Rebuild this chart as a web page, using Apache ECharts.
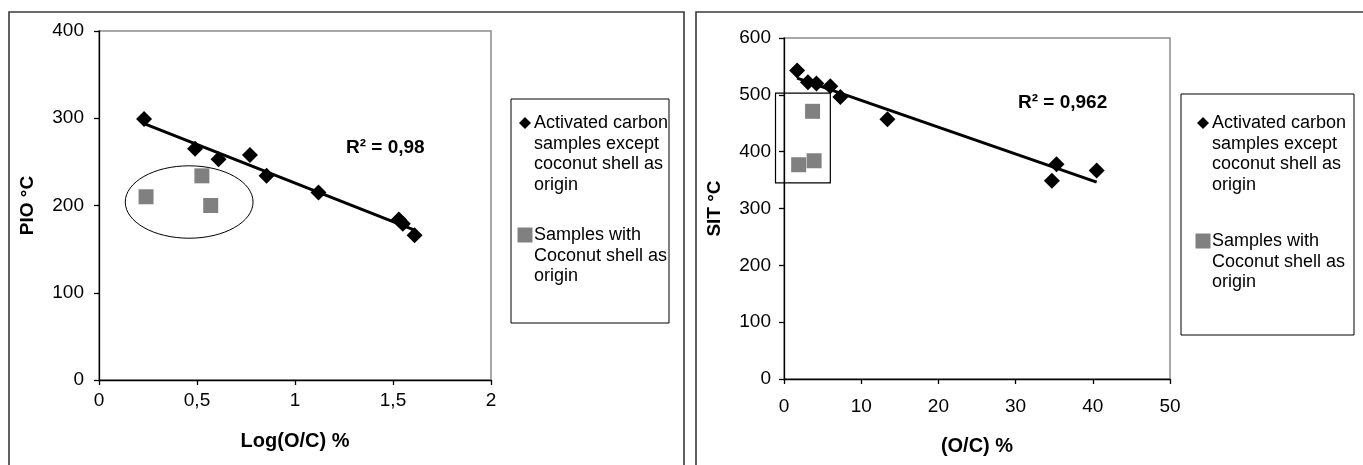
<!DOCTYPE html>
<html>
<head>
<meta charset="utf-8">
<script src="https://cdn.jsdelivr.net/npm/echarts@6/dist/echarts.min.js"></script>
<style>
  html, body { margin: 0; padding: 0; background: #ffffff; }
  #chart { width: 1363px; height: 465px; }
</style>
</head>
<body>
<div id="chart"></div>
<script>
// Left panel: PIO against Log(O/C)
const pioLogOC = [0.23, 0.49, 0.61, 0.77, 0.855, 1.12, 1.53, 1.55, 1.61];
const pioTemp = [299, 265, 253, 258, 234, 215, 184, 179, 166];
const pioCocoLogOC = [0.24, 0.525, 0.57];
const pioCocoTemp = [210, 234, 200];
const pioR2 = '0,98';

// Right panel: SIT against O/C
const sitOC = [1.7, 3.1, 4.2, 6.0, 7.3, 13.4, 34.7, 35.3, 40.5];
const sitTemp = [543, 522, 520, 515, 496, 457, 349, 378, 367];
const sitCocoOC = [3.7, 1.9, 3.9];
const sitCocoTemp = [471, 377, 384];
const sitR2 = '0,962';

// Axis tick settings
const pioXTicks = { min: 0, max: 2, interval: 0.5 };
const pioYTicks = { min: 0, max: 400, interval: 100 };
const sitXTicks = { min: 0, max: 50, interval: 10 };
const sitYTicks = { min: 0, max: 600, interval: 100 };

// Legend entries
const legendMain = ['Activated carbon', 'samples except', 'coconut shell as', 'origin'];
const legendCoco = ['Samples with', 'Coconut shell as', 'origin'];

// Grouping outlines around the coconut-shell samples (data units)
const pioOutline = { cx: 0.46, cy: 204, rx: 0.326, ry: 41.5 };
const sitOutline = { x0: -1.1, x1: 6.0, y0: 345, y1: 503 };

function zip(xs, ys) { return xs.map((x, i) => [x, ys[i]]); }

// Ordinary least-squares line across the range of the data
function fitLine(xs, ys) {
  const n = xs.length;
  const mx = xs.reduce((a, b) => a + b, 0) / n;
  const my = ys.reduce((a, b) => a + b, 0) / n;
  let sxy = 0, sxx = 0;
  for (let i = 0; i < n; i++) {
    sxy += (xs[i] - mx) * (ys[i] - my);
    sxx += (xs[i] - mx) * (xs[i] - mx);
  }
  const slope = sxy / sxx;
  const x0 = Math.min(...xs), x1 = Math.max(...xs);
  return [[x0, my + slope * (x0 - mx)], [x1, my + slope * (x1 - mx)]];
}

const FONT = '"Liberation Sans", Arial, sans-serif';
const comma = v => String(v).replace('.', ',');

function xAxisDef(idx, ticks, name, gap, margin) {
  return {
    gridIndex: idx, type: 'value', min: ticks.min, max: ticks.max, interval: ticks.interval,
    name: name, nameLocation: 'middle', nameGap: gap,
    nameTextStyle: { fontFamily: FONT, fontSize: 20, fontWeight: 'bold', color: '#000' },
    axisLine: { show: true, onZero: false, lineStyle: { color: '#000', width: 1.3 } },
    axisTick: { show: true, length: 5, inside: false, lineStyle: { color: '#000', width: 1.3 } },
    axisLabel: { fontFamily: FONT, fontSize: 19, color: '#000', margin: margin, formatter: comma },
    splitLine: { show: false }
  };
}
function yAxisDef(idx, ticks, name, gap, margin) {
  return {
    gridIndex: idx, type: 'value', min: ticks.min, max: ticks.max, interval: ticks.interval,
    name: name, nameLocation: 'middle', nameGap: gap, nameRotate: 90,
    nameTextStyle: { fontFamily: FONT, fontSize: 19, fontWeight: 'bold', color: '#000' },
    axisLine: { show: true, onZero: false, lineStyle: { color: '#000', width: 1.3 } },
    axisTick: { show: true, length: 5, inside: false, lineStyle: { color: '#000', width: 1.3 } },
    axisLabel: { fontFamily: FONT, fontSize: 19, color: '#000', margin: margin, formatter: comma },
    splitLine: { show: false }
  };
}

const diamondStyle = { color: '#000', opacity: 1 };
const squareStyle = { color: '#808080', opacity: 1 };

const chart = echarts.init(document.getElementById('chart'), null, { renderer: 'canvas' });

chart.setOption({
  animation: false,
  backgroundColor: '#fff',
  grid: [
    { left: 99, top: 31, width: 392, height: 349, show: true, borderColor: '#8c8c8c', borderWidth: 1.5, backgroundColor: 'transparent' },
    { left: 784, top: 38, width: 386, height: 341, show: true, borderColor: '#8c8c8c', borderWidth: 1.5, backgroundColor: 'transparent' }
  ],
  xAxis: [
    xAxisDef(0, pioXTicks, 'Log(O/C) %', 51, 11),
    xAxisDef(1, sitXTicks, '(O/C) %', 57, 18)
  ],
  yAxis: [
    yAxisDef(0, pioYTicks, 'PIO °C', 62, 15),
    yAxisDef(1, sitYTicks, 'SIT °C', 60, 13)
  ],
  series: [
    {
      name: 'trend PIO', type: 'line', xAxisIndex: 0, yAxisIndex: 0,
      data: fitLine(pioLogOC, pioTemp), showSymbol: false, symbol: 'none',
      lineStyle: { color: '#000', width: 3 }, z: 2
    },
    {
      name: 'Activated carbon samples except coconut shell as origin', type: 'scatter',
      xAxisIndex: 0, yAxisIndex: 0, data: zip(pioLogOC, pioTemp),
      symbol: 'diamond', symbolSize: 16, itemStyle: diamondStyle, z: 3
    },
    {
      name: 'Samples with Coconut shell as origin', type: 'scatter',
      xAxisIndex: 0, yAxisIndex: 0, data: zip(pioCocoLogOC, pioCocoTemp),
      symbol: 'rect', symbolSize: 15, itemStyle: squareStyle, z: 3
    },
    {
      name: 'trend SIT', type: 'line', xAxisIndex: 1, yAxisIndex: 1,
      data: fitLine(sitOC, sitTemp), showSymbol: false, symbol: 'none',
      lineStyle: { color: '#000', width: 3 }, z: 2
    },
    {
      name: 'Activated carbon samples except coconut shell as origin', type: 'scatter',
      xAxisIndex: 1, yAxisIndex: 1, data: zip(sitOC, sitTemp),
      symbol: 'diamond', symbolSize: 16, itemStyle: diamondStyle, z: 3
    },
    {
      name: 'Samples with Coconut shell as origin', type: 'scatter',
      xAxisIndex: 1, yAxisIndex: 1, data: zip(sitCocoOC, sitCocoTemp),
      symbol: 'rect', symbolSize: 15, itemStyle: squareStyle, z: 3
    }
  ]
});

// Annotations positioned from data coordinates
function px(gridIdx, x, y) {
  return chart.convertToPixel({ xAxisIndex: gridIdx, yAxisIndex: gridIdx }, [x, y]);
}

function legendBlock(x, y, w, h, iconX, firstLineY, cocoLineY, textX) {
  const lineH = 20.7;
  const els = [];
  els.push({ type: 'rect', shape: { x: x, y: y, width: w, height: h },
    style: { fill: '#fff', stroke: '#000', lineWidth: 1 }, z: 10 });
  els.push({ type: 'polygon', shape: { points: [[iconX, firstLineY - 6], [iconX + 6, firstLineY], [iconX, firstLineY + 6], [iconX - 6, firstLineY]] },
    style: { fill: '#000' }, z: 11 });
  legendMain.forEach((t, i) => els.push({ type: 'text', x: textX, y: firstLineY + i * lineH,
    style: { text: t, font: '18px ' + FONT, fill: '#000', verticalAlign: 'middle', textAlign: 'left' }, z: 11 }));
  els.push({ type: 'rect', shape: { x: iconX - 7.5, y: cocoLineY - 7.5, width: 15, height: 15 },
    style: { fill: '#808080' }, z: 11 });
  legendCoco.forEach((t, i) => els.push({ type: 'text', x: textX, y: cocoLineY + i * lineH,
    style: { text: t, font: '18px ' + FONT, fill: '#000', verticalAlign: 'middle', textAlign: 'left' }, z: 11 }));
  return els;
}

const ec = px(0, pioOutline.cx, pioOutline.cy);
const eRx = px(0, pioOutline.cx + pioOutline.rx, pioOutline.cy)[0] - ec[0];
const eRy = ec[1] - px(0, pioOutline.cx, pioOutline.cy + pioOutline.ry)[1];
const r0 = px(1, sitOutline.x0, sitOutline.y1);
const r1 = px(1, sitOutline.x1, sitOutline.y0);

const labelFont = 'bold 19px ' + FONT;

const graphics = [
  // panel frames
  { type: 'polyline', shape: { points: [[9, 470], [9, 12], [684, 12], [684, 470]] },
    style: { stroke: '#3a3a3a', lineWidth: 1.6, fill: null }, z: 1 },
  { type: 'polyline', shape: { points: [[696, 470], [696, 12], [1370, 12]] },
    style: { stroke: '#3a3a3a', lineWidth: 1.6, fill: null }, z: 1 },
  // grouping outlines
  { type: 'ellipse', shape: { cx: ec[0], cy: ec[1], rx: eRx, ry: eRy },
    style: { stroke: '#000', lineWidth: 1, fill: null }, z: 5 },
  { type: 'rect', shape: { x: r0[0], y: r0[1], width: r1[0] - r0[0], height: r1[1] - r0[1] },
    style: { stroke: '#000', lineWidth: 1.2, fill: null }, z: 5 },
  // coefficient labels
  { type: 'text', x: 346, y: 148, style: { text: 'R² = ' + pioR2, font: labelFont, fill: '#000', verticalAlign: 'middle' }, z: 6 },
  { type: 'text', x: 1018, y: 103, style: { text: 'R² = ' + sitR2, font: labelFont, fill: '#000', verticalAlign: 'middle' }, z: 6 }
].concat(
  legendBlock(511, 99, 158, 224, 525, 123, 235, 534),
  legendBlock(1181, 94, 173, 241, 1203, 123, 241, 1212)
);

chart.setOption({ graphic: graphics });
</script>
</body>
</html>
